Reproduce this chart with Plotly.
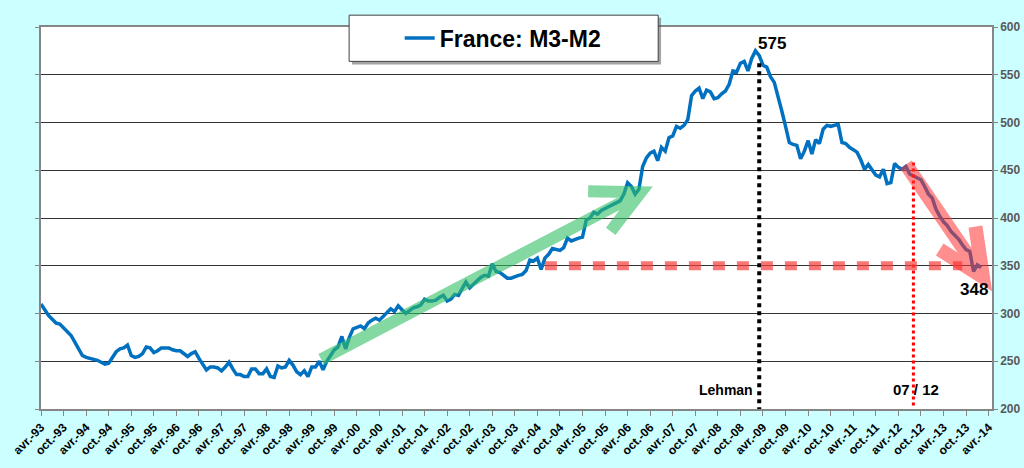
import plotly.graph_objects as go

# France M3-M2, monthly, avr.-93 .. fév.-14
m3_m2 = [
    310, 304, 298, 294, 290, 289, 285, 280, 277, 270, 263, 256,   # 1993-94
    254, 253, 252, 251, 249, 247, 248, 254, 260, 263, 264, 267,   # 1994-95
    256, 254, 255, 258, 265, 264, 259, 261, 264, 264, 264, 262,   # 1995-96
    261, 261, 258, 255, 258, 260, 253, 247, 241, 244, 244, 243,   # 1996-97
    240, 244, 249, 242, 236, 236, 234, 234, 242, 242, 237, 237,   # 1997-98
    242, 234, 233, 245, 243, 244, 251, 246, 239, 236, 240, 234,   # 1998-99
    244, 244, 250, 241, 250, 256, 262, 265, 276, 263, 275, 284,   # 1999-00
    286, 287, 284, 290, 293, 295, 293, 297, 300, 305, 302, 308,   # 2000-01
    304, 300, 303, 306, 307, 309, 315, 313, 313, 314, 317, 319,   # 2001-02
    313, 315, 320, 319, 326, 333, 327, 331, 334, 338, 340, 339,   # 2002-03
    352, 344, 343, 340, 337, 337, 339, 340, 341, 345, 356, 355,   # 2003-04
    358, 346, 358, 362, 368, 367, 366, 369, 379, 376, 378, 379,   # 2004-05
    380, 398, 400, 406, 404, 408, 410, 412, 413, 415, 418, 425,   # 2005-06
    437, 433, 425, 430, 454, 463, 468, 470, 460, 474, 470, 484,   # 2006-07
    486, 496, 494, 497, 503, 528, 533, 536, 525, 534, 532, 525,   # 2007-08
    526, 530, 533, 540, 554, 553, 562, 564, 554, 567, 575, 570,   # 2008-09
    560, 558, 548, 542, 528, 512, 496, 479, 477, 476, 462, 470,   # 2009-10
    481, 467, 482, 478, 493, 497, 496, 497, 498, 479, 478, 474,   # 2010-11
    472, 469, 461, 451, 456, 451, 445, 443, 451, 436, 437, 457,   # 2011-12
    453, 451, 454, 446, 444, 442, 440, 433, 425, 421, 409, 402,   # 2012-13
    396, 392, 386, 382, 378, 372, 367, 365, 344, 351, 348,        # 2013-14
]
months = list(range(len(m3_m2)))  # month index from avr.-93

tick_vals = list(range(0, 253, 6))
tick_labels = []
for yr in range(1993, 2015):
    for mo in ["avr.", "oct."]:
        tick_labels.append(f"{mo}-{yr % 100:02d}")
tick_labels = tick_labels[:len(tick_vals)]

peak_month, peak_value = 190, 575
lehman_month = 191
july12_month = 232
last_value = 348

FONT = "Liberation Sans, Arial, sans-serif"

fig = go.Figure()
fig.add_trace(go.Scatter(
    x=months, y=m3_m2, mode="lines", name="France: M3-M2",
    line=dict(color="#0070C0", width=3.5),
))

shapes = [
    # legend box + shadow
    dict(type="rect", xref="paper", yref="paper", x0=0.327, x1=0.652, y0=0.902, y1=1.024,
         fillcolor="rgba(90,90,90,0.55)", line=dict(width=0), layer="above"),
    dict(type="rect", xref="paper", yref="paper", x0=0.324, x1=0.649, y0=0.910, y1=1.031,
         fillcolor="white", line=dict(color="#404040", width=1), layer="above"),
    # Lehman
    dict(type="line", x0=lehman_month, x1=lehman_month, y0=562, y1=200,
         line=dict(color="black", width=4, dash="4px,4px"), layer="above"),
    # 07/12
    dict(type="line", x0=july12_month, x1=july12_month, y0=458, y1=201,
         line=dict(color="red", width=3, dash="3px,3px"), layer="above"),
    # 350 level
    dict(type="line", x0=134, x1=245, y0=350, y1=350,
         line=dict(color="rgba(245,60,60,0.7)", width=9, dash="12px,12px"), layer="above"),
    # green arrow
    dict(type="path", path="M 74.5 252 L 159.5 427 M 145.5 428 L 159.5 427 L 151.5 386",
         line=dict(color="rgba(50,190,100,0.6)", width=12), layer="above"),
    # red arrow
    dict(type="path", path="M 230 456 L 250.5 338 M 248.5 391 L 250.5 338 L 239 367",
         line=dict(color="rgba(255,50,50,0.55)", width=14), layer="above"),
]

annotations = [
    dict(x=194.4, y=583, text=f"<b>{peak_value}</b>", showarrow=False,
         font=dict(size=17, color="black", family=FONT)),
    dict(x=248.1, y=325, text=f"<b>{last_value}</b>", showarrow=False,
         font=dict(size=17, color="black", family=FONT)),
    dict(x=lehman_month - 1, y=220, text="<b>Lehman</b>", showarrow=False, xanchor="right",
         font=dict(size=14, color="black", family=FONT)),
    dict(x=232.7, y=220, text="<b>07 / 12</b>", showarrow=False,
         font=dict(size=15, color="black", family=FONT)),
]

fig.update_layout(
    width=1024, height=468,
    margin=dict(l=41, r=32, t=27, b=59, autoexpand=False),
    paper_bgcolor="#CCFFFF", plot_bgcolor="white",
    showlegend=True,
    legend=dict(x=0.486, xanchor="center", y=0.971, yanchor="middle",
                bgcolor="rgba(0,0,0,0)",
                font=dict(size=23, color="black", family=FONT, weight="bold")),
    xaxis=dict(range=[0, 252.9], tickmode="array", tickvals=tick_vals, ticktext=tick_labels,
               tickangle=-45, showgrid=False, zeroline=False, automargin=False,
               showline=True, linecolor="#868686", linewidth=1.5, mirror=True,
               ticks="outside", ticklen=5, tickcolor="#868686",
               tickfont=dict(size=12, color="black", family=FONT, weight="bold")),
    yaxis=dict(range=[200, 600], dtick=50, side="right", automargin=False,
               showgrid=True, gridcolor="#333333", gridwidth=1, zeroline=False,
               showline=True, linecolor="#868686", linewidth=1.5, mirror="allticks",
               ticks="outside", ticklen=4, tickcolor="#868686",
               tickfont=dict(size=12, color="#595959", family=FONT, weight="bold")),
    shapes=shapes,
    annotations=annotations,
)

# the page body has a default 8px margin; drop it so the figure fills the window
fig.write_html("out.html", config={"displayModeBar": False},
               post_script="document.body.style.margin='0';"
                           "document.body.style.background='#CCFFFF';")
